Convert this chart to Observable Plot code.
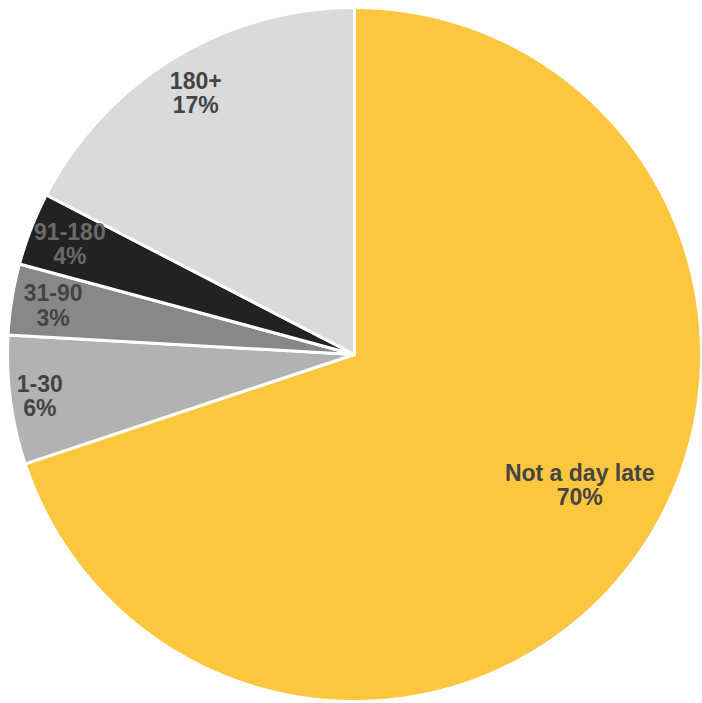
<!DOCTYPE html>
<html>
<head>
<meta charset="utf-8">
<script src="https://cdn.jsdelivr.net/npm/d3@7"></script>
<script src="https://cdn.jsdelivr.net/npm/@observablehq/plot@0.6"></script>
<style>
  html, body { margin: 0; padding: 0; background: #fff; }
  #chart svg { display: block; }
</style>
</head>
<body>
<div id="chart"></div>
<script>
const categories = ["Not a day late", "1-30", "31-90", "91-180", "180+"];
const values = [69.9, 6.0, 3.3, 3.4, 17.4];
const percentLabels = ["70%", "6%", "3%", "4%", "17%"];
const colors = ["#fdc63f", "#b2b2b2", "#888888", "#222222", "#dadada"];
const textColors = ["#444444", "#444444", "#444444", "#6a6a6a", "#444444"];

const data = categories.map((c, i) => ({category: c, value: values[i], label: percentLabels[i], textColor: textColors[i]}));
const arcs = d3.pie().sort(null).value(d => d.value)(data);

// slice outlines
const outline = [];
arcs.forEach(a => {
  const c = a.data.category;
  outline.push({category: c, x: 0, y: 0});
  const n = Math.max(8, Math.ceil((a.endAngle - a.startAngle) / 0.005));
  for (let k = 0; k <= n; k++) {
    const t = a.startAngle + (a.endAngle - a.startAngle) * k / n;
    outline.push({category: c, x: Math.sin(t), y: Math.cos(t)});
  }
  outline.push({category: c, x: 0, y: 0});
});

// label positions
const maxVal = d3.max(values);
const labelData = arcs.map(a => {
  const big = a.data.value === maxVal;
  const mid = (a.startAngle + a.endAngle) / 2 - (big ? 0.1 : 0);
  const r = big ? 0.75 : (mid < 1.5 * Math.PI ? 0.915 : 0.88);
  return {
    x: r * Math.sin(mid),
    y: r * Math.cos(mid),
    text: a.data.category + "\n" + a.data.label,
    fill: a.data.textColor
  };
});

const chart = Plot.plot({
  width: 702,
  height: 703,
  marginLeft: 7,
  marginRight: 1,
  marginTop: 7,
  marginBottom: 2,
  x: {domain: [-1, 1], axis: null},
  y: {domain: [-1, 1], axis: null},
  color: {domain: categories, range: colors},
  style: {background: "#fff"},
  marks: [
    Plot.line(outline, {x: "x", y: "y", z: "category", fill: "category", stroke: "white", strokeWidth: 3, strokeLinejoin: "round"}),
    Plot.text(labelData, {
      x: "x", y: "y", text: "text", fill: d => d.fill,
      fontSize: 23, fontWeight: "bold", fontFamily: "Liberation Sans, Arial, sans-serif",
      lineHeight: 1.05, textAnchor: "middle", lineAnchor: "middle"
    })
  ]
});
document.getElementById("chart").appendChild(chart);
</script>
</body>
</html>
